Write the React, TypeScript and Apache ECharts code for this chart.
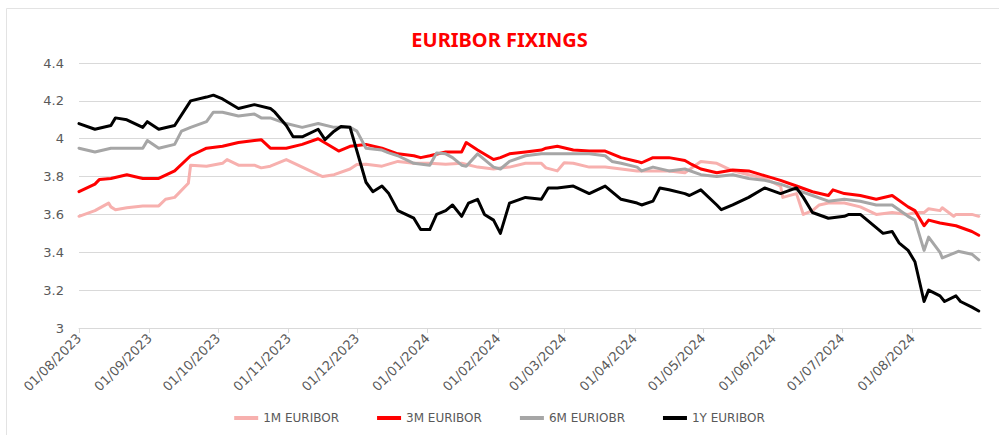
import React, { useEffect, useRef } from "react";
import * as echarts from "echarts";

// Weekly fixing dates shared by all four series
const dates: string[] = [
  "2023-08-01", "2023-08-08", "2023-08-15", "2023-08-22", "2023-08-29",
  "2023-09-05", "2023-09-12", "2023-09-19", "2023-09-26", "2023-10-03",
  "2023-10-10", "2023-10-17", "2023-10-24", "2023-10-31", "2023-11-07",
  "2023-11-14", "2023-11-21", "2023-11-28", "2023-12-05", "2023-12-12",
  "2023-12-19", "2023-12-26", "2024-01-02", "2024-01-09", "2024-01-16",
  "2024-01-23", "2024-01-30", "2024-02-02", "2024-02-06", "2024-02-13",
  "2024-02-20", "2024-02-27", "2024-03-05", "2024-03-12", "2024-03-19",
  "2024-03-26", "2024-04-02", "2024-04-09", "2024-04-16", "2024-04-23",
  "2024-04-30", "2024-05-07", "2024-05-14", "2024-05-21", "2024-05-28",
  "2024-06-04", "2024-06-11", "2024-06-18", "2024-06-25", "2024-07-02",
  "2024-07-09", "2024-07-16", "2024-07-23", "2024-07-30", "2024-08-02",
  "2024-08-06", "2024-08-08", "2024-08-13", "2024-08-20", "2024-08-27",
  "2024-08-30",
];

const euribor1M: number[] = [
  3.59, 3.62, 3.64, 3.635, 3.645, 3.645, 3.69, 3.86, 3.855, 3.87,
  3.86, 3.86, 3.855, 3.89, 3.85, 3.81, 3.81, 3.84, 3.865, 3.855,
  3.88, 3.87, 3.87, 3.865, 3.87, 3.85, 3.84, 3.845, 3.85, 3.87, 3.87,
  3.83, 3.87, 3.85, 3.85, 3.84, 3.83, 3.83, 3.83, 3.82, 3.88,
  3.87, 3.83, 3.81, 3.79, 3.75, 3.71, 3.62, 3.66, 3.66, 3.64,
  3.60, 3.61, 3.60, 3.61, 3.61, 3.63, 3.62, 3.60, 3.60, 3.59,
];

const euribor3M: number[] = [
  3.72, 3.76, 3.79, 3.81, 3.79, 3.79, 3.83, 3.91, 3.95, 3.96,
  3.98, 3.99, 3.95, 3.95, 3.97, 4.0, 3.95, 3.96, 3.97, 3.95,
  3.92, 3.91, 3.91, 3.93, 3.93, 3.94, 3.89, 3.9, 3.92, 3.93, 3.94,
  3.96, 3.94, 3.935, 3.935, 3.9, 3.88, 3.9, 3.9, 3.885, 3.84,
  3.82, 3.835, 3.83, 3.805, 3.78, 3.75, 3.72, 3.7, 3.71, 3.7,
  3.68, 3.7, 3.64, 3.62, 3.54, 3.57, 3.555, 3.54, 3.51, 3.49,
];

const euribor6M: number[] = [
  3.95, 3.93, 3.95, 3.95, 3.95, 3.95, 3.97, 4.06, 4.09, 4.14,
  4.12, 4.13, 4.11, 4.08, 4.06, 4.08, 4.06, 4.06, 3.95, 3.94,
  3.91, 3.87, 3.86, 3.92, 3.86, 3.92, 3.85, 3.84, 3.88, 3.91, 3.92,
  3.92, 3.92, 3.92, 3.91, 3.87, 3.85, 3.85, 3.83, 3.84, 3.81,
  3.8, 3.81, 3.79, 3.78, 3.76, 3.73, 3.7, 3.67, 3.68, 3.67,
  3.65, 3.65, 3.59, 3.57, 3.41, 3.48, 3.4, 3.4, 3.39, 3.36,
];

const euribor1Y: number[] = [
  4.08, 4.05, 4.07, 4.1, 4.06, 4.05, 4.07, 4.2, 4.22, 4.21,
  4.16, 4.18, 4.16, 4.07, 4.01, 4.05, 4.04, 4.06, 3.77, 3.75,
  3.62, 3.58, 3.52, 3.62, 3.59, 3.68, 3.57, 3.5, 3.66, 3.69, 3.68,
  3.74, 3.75, 3.71, 3.75, 3.68, 3.66, 3.67, 3.73, 3.71, 3.73,
  3.65, 3.65, 3.69, 3.74, 3.71, 3.74, 3.61, 3.58, 3.59, 3.6,
  3.53, 3.51, 3.41, 3.35, 3.14, 3.2, 3.17, 3.17, 3.11, 3.09,
];

// Additional in-between fixings read where the lines show spikes or dips
const extraDates1M: string[] = [
  "2023-08-14", "2023-08-17", "2023-09-08", "2023-09-18", "2023-10-05",
  "2023-10-20", "2023-11-16", "2023-12-01", "2024-02-22", "2024-03-01",
  "2024-06-05", "2024-06-14", "2024-06-21", "2024-08-14", "2024-08-19",
];
const extraValues1M: number[] = [
  3.66, 3.625, 3.68, 3.765, 3.89,
  3.846, 3.8, 3.864, 3.846, 3.873,
  3.69, 3.6, 3.65, 3.635, 3.59,
];

const extraDates3M: string[] = [
  "2023-08-10", "2023-10-20", "2023-11-23", "2023-12-29", "2024-01-18",
  "2024-02-22", "2024-04-04", "2024-04-26", "2024-06-27",
];
const extraValues3M: number[] = [
  3.785, 3.995, 3.935, 3.9, 3.98,
  3.95, 3.873, 3.864, 3.73,
];

const extraDates6M: string[] = [
  "2023-08-31", "2023-09-15", "2023-09-29", "2023-10-20", "2023-12-01",
  "2023-12-15", "2024-01-05", "2024-01-12", "2024-01-18", "2024-03-22",
  "2024-04-04", "2024-08-14", "2024-08-21",
];
const extraValues6M: number[] = [
  3.99, 4.04, 4.14, 4.11, 4.04,
  3.925, 3.925, 3.9, 3.855, 3.88,
  3.83, 3.37, 3.405,
];

const extraDates1Y: string[] = [
  "2023-08-17", "2023-08-31", "2023-09-29", "2023-10-26", "2023-11-03",
  "2023-11-17", "2023-11-24", "2023-12-08", "2023-12-15", "2023-12-29",
  "2024-01-05", "2024-01-12", "2024-01-19", "2024-01-26", "2024-02-23",
  "2024-04-04", "2024-04-12", "2024-04-25", "2024-05-09", "2024-06-14",
  "2024-07-04", "2024-07-19", "2024-07-26", "2024-08-15", "2024-08-22",
];
const extraValues1Y: number[] = [
  4.11, 4.09, 4.23, 4.14, 4.01,
  3.995, 4.065, 3.72, 3.71, 3.52,
  3.6, 3.65, 3.66, 3.6, 3.74,
  3.65, 3.74, 3.7, 3.625, 3.69,
  3.6, 3.5, 3.45, 3.14, 3.14,
];

const seriesNames = ["1M EURIBOR", "3M EURIBOR", "6M EURIOBR", "1Y EURIBOR"];
const seriesColors = ["#F7B0AE", "#FF0000", "#A6A6A6", "#000000"];
const seriesValues = [euribor1M, euribor3M, euribor6M, euribor1Y];
const seriesExtraDates = [extraDates1M, extraDates3M, extraDates6M, extraDates1Y];
const seriesExtraValues = [extraValues1M, extraValues3M, extraValues6M, extraValues1Y];

const yMin = 3;
const yMax = 4.4;
const yStep = 0.2;

function buildData(si: number): [string, number][] {
  const pts: [string, number][] = dates.map((d, i) => [d, seriesValues[si][i]]);
  seriesExtraDates[si].forEach((d, i) => pts.push([d, seriesExtraValues[si][i]]));
  pts.sort((a, b) => (a[0] < b[0] ? -1 : a[0] > b[0] ? 1 : 0));
  return pts;
}

export default function App() {
  const ref = useRef<HTMLDivElement>(null);

  useEffect(() => {
    if (!ref.current) return;
    const chart = echarts.init(ref.current, undefined, { renderer: "svg" });
    const pad = (n: number) => String(n).padStart(2, "0");
    const dayMs = 86400000;

    chart.setOption({
      animation: false,
      backgroundColor: "#ffffff",
      title: {
        text: "EURIBOR FIXINGS",
        left: "center",
        top: 24,
        textStyle: {
          color: "#FF0000",
          fontSize: 20,
          fontWeight: "bold",
          fontFamily: "Noto Sans",
        },
      },
      graphic: [
        {
          type: "rect",
          silent: true,
          z: -10,
          shape: { x: 6.5, y: 8.5, width: 1100, height: 500 },
          style: { fill: "none", stroke: "#E3E3E3", lineWidth: 1 },
        },
      ],
      legend: {
        data: seriesNames,
        left: "center",
        top: 407,
        icon: "rect",
        itemWidth: 24,
        itemHeight: 4,
        itemGap: 38,
        textStyle: { color: "#595959", fontSize: 12, fontFamily: "DejaVu Sans" },
      },
      grid: { left: 79, right: 18, top: 63, bottom: 107, containLabel: false },
      xAxis: {
        type: "time",
        min: new Date(2023, 7, 1).getTime(),
        max: new Date(2024, 7, 31).getTime(),
        splitNumber: 13,
        minInterval: 28 * dayMs,
        maxInterval: 31 * dayMs,
        axisLine: { show: true, lineStyle: { color: "#D9D9D9", width: 1 } },
        axisTick: { show: true, length: 5, lineStyle: { color: "#D9D9D9" } },
        splitLine: { show: false },
        axisLabel: {
          rotate: 45,
          interval: 0,
          hideOverlap: false,
          showMinLabel: true,
          showMaxLabel: false,
          color: "#595959",
          fontSize: 13,
          fontFamily: "DejaVu Sans",
          margin: 8,
          formatter: (v: number) => {
            const d = new Date(v);
            if (d.getDate() !== 1) return "";
            return pad(d.getDate()) + "/" + pad(d.getMonth() + 1) + "/" + d.getFullYear();
          },
        },
      },
      yAxis: {
        type: "value",
        min: yMin,
        max: yMax,
        interval: yStep,
        axisLine: { show: false },
        axisTick: { show: false },
        splitLine: { show: true, lineStyle: { color: "#D9D9D9", width: 1 } },
        axisLabel: {
          color: "#595959",
          fontSize: 13,
          fontFamily: "DejaVu Sans",
          margin: 15,
          formatter: (v: number) => String(Math.round(v * 10) / 10),
        },
      },
      series: seriesNames.map((name, si) => ({
        name,
        type: "line",
        showSymbol: false,
        symbol: "none",
        color: seriesColors[si],
        lineStyle: { width: 3, color: seriesColors[si], join: "round", cap: "round" },
        data: buildData(si),
        z: 2 + si,
      })),
    });

    return () => chart.dispose();
  }, []);

  return (
    <div
      ref={ref}
      style={{ position: "fixed", left: 0, top: 0, width: 999, height: 435, background: "#fff" }}
    />
  );
}
